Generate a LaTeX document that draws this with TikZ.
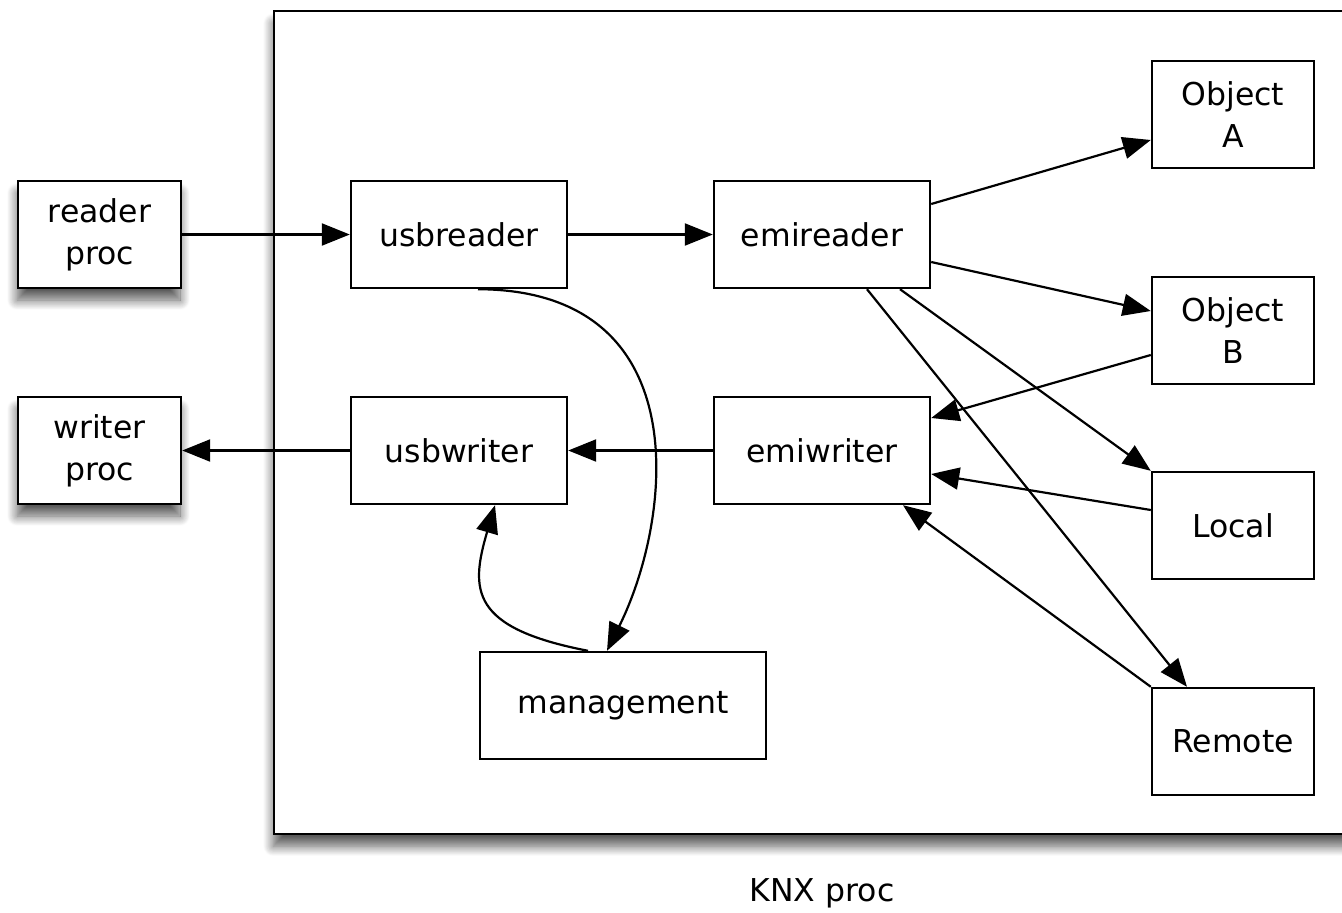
\documentclass[tikz,border=0pt]{standalone}
\usepackage{fontspec}
\setmainfont{DejaVu Sans}
\usetikzlibrary{arrows.meta,shadows.blur}
\begin{document}
\begin{tikzpicture}[x=1pt,y=-1pt,
  every node/.style={font=\fontsize{31.5}{42}\selectfont, align=center},
  box/.style={draw, line width=2.4pt, fill=white, inner sep=0pt},
  shadowed/.style={blur shadow={shadow xshift=-1pt, shadow yshift=-12pt, shadow blur radius=10pt, shadow blur steps=12, shadow opacity=65}},
  link/.style={line width=2.2pt, -{Triangle[length=28pt,width=22pt]}}]
\useasboundingbox (0,0) rectangle (1342,913);

% enclosing process
\node[box, shadowed, minimum width=1090pt, minimum height=823pt, anchor=north west] (knx) at (273,10) {};
\node (knxlabel) at (822,893) {KNX proc};

% processes outside
\node[box, shadowed, minimum width=163pt, minimum height=107pt] (rproc) at (99.5,234.5) {reader\\proc};
\node[box, shadowed, minimum width=163pt, minimum height=107pt] (wproc) at (99.5,450.5) {writer\\proc};

% threads inside
\node[box, minimum width=216pt, minimum height=107pt] (usbr) at (459,234.5) {usbreader};
\node[box, minimum width=216pt, minimum height=107pt] (usbw) at (459,450.5) {usbwriter};
\node[box, minimum width=216pt, minimum height=107pt] (emir) at (822,234.5) {emireader};
\node[box, minimum width=216pt, minimum height=107pt] (emiw) at (822,450.5) {emiwriter};
\node[box, minimum width=286pt, minimum height=107pt] (mgmt) at (623,705.5) {management};

\node[box, minimum width=162pt, minimum height=107pt] (oa) at (1233,114.5) {Object\\A};
\node[box, minimum width=162pt, minimum height=107pt] (ob) at (1233,330.5) {Object\\B};
\node[box, minimum width=162pt, minimum height=107pt] (loc) at (1233,525.5) {Local};
\node[box, minimum width=162pt, minimum height=107pt] (rem) at (1233,741.5) {Remote};

% straight links
\draw[link] (rproc.east) -- (usbr.west);
\draw[link] (usbr.east) -- (emir.west);
\draw[link] (usbw.west) -- (wproc.east);
\draw[link] (emiw.west) -- (usbw.east);

\draw[link] (emir.east |- 0,204) -- (oa.west |- 0,140);
\draw[link] (emir.east |- 0,262) -- (ob.west |- 0,311);
\draw[link] (ob.west |- 0,355) -- (emiw.east |- 0,418);
\draw[link] (emir.south -| 900,0) -- (loc.north west);
\draw[link] (emir.south -| 867,0) -- (rem.north -| 1187,0);
\draw[link] (loc.west |- 0,510) -- (emiw.east |- 0,474);
\draw[link] (rem.north west) -- (emiw.south -| 903,0);

% curved links
\draw[link] (usbr.south -| 478,0) .. controls (700,290) and (672,520) .. (mgmt.north -| 607,0);
\draw[link] (mgmt.north -| 588,0) .. controls (470,628) and (470,590) .. (usbw.south -| 495,0);
\end{tikzpicture}
\end{document}
